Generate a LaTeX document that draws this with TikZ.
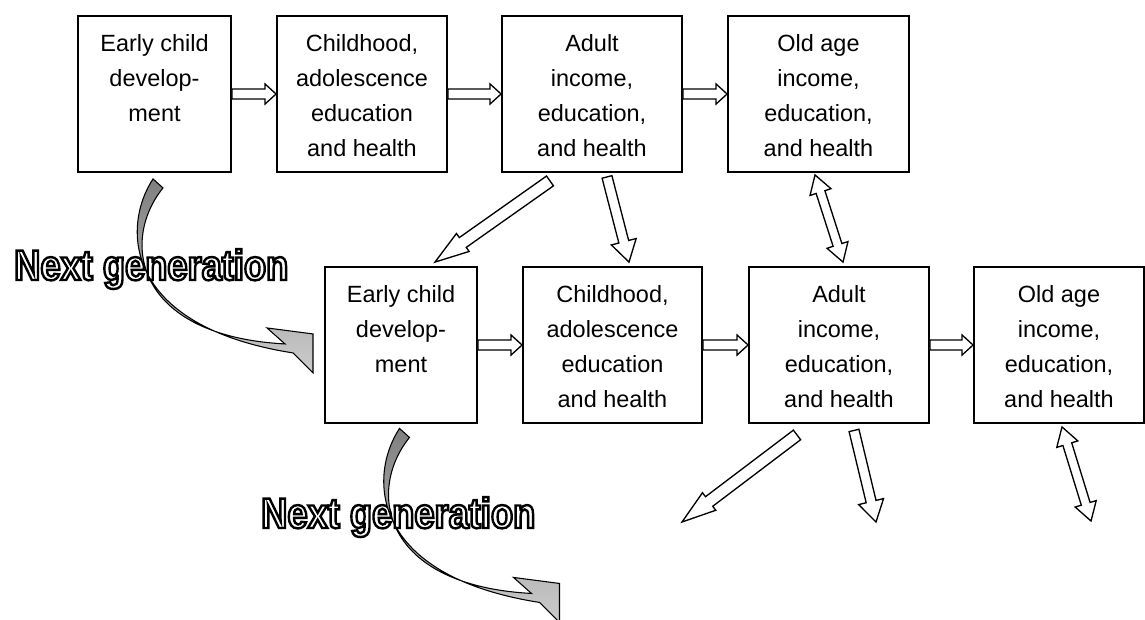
\documentclass[tikz,border=0pt]{standalone}
\usepackage{fontspec}
\setmainfont{Liberation Sans}
\newfontfamily\genfont{Liberation Sans}[FakeStretch=0.85]
\usetikzlibrary{calc}

\newcommand{\stagetext}[1]{\parbox[t][90pt][t]{110pt}{\centering #1}}
\newcommand{\hollow}[1]{\special{pdf:literal direct 2 Tr 1.8 w 0 0 0 RG}#1\special{pdf:literal direct 0 Tr}}

\begin{document}
\begin{tikzpicture}[x=0.75pt,y=-0.75pt,
    stage/.style={draw, line width=1.4pt, fill=white, inner sep=0pt, minimum height=117pt,
      font=\fontsize{17.6pt}{26.25pt}\selectfont},
    nextgen/.style={text=white, anchor=base west, inner sep=0pt,
      font=\genfont\bfseries\fontsize{32pt}{36pt}\selectfont},
    blockarrow/.style n args={3}{draw, fill=white, line width=1pt, line join=miter,
      to path={let \p1=(\tikztostart), \p2=(\tikztotarget), \p3=($(\p2)!#3!(\p1)$) in
        ($(\p1)!#1!90:(\p2)$) -- ($(\p3)!#1!90:(\p2)$) -- ($(\p3)!#2!90:(\p2)$) -- (\p2)
        -- ($(\p3)!#2!-90:(\p2)$) -- ($(\p3)!#1!-90:(\p2)$) -- ($(\p1)!#1!-90:(\p2)$) -- cycle}},
    bothways/.style n args={3}{draw, fill=white, line width=1pt, line join=miter,
      to path={let \p1=(\tikztostart), \p2=(\tikztotarget), \p3=($(\p2)!#3!(\p1)$),
          \p4=($(\p1)!#3!(\p2)$) in
        (\p1) -- ($(\p4)!#2!90:(\p2)$) -- ($(\p4)!#1!90:(\p2)$) -- ($(\p3)!#1!90:(\p2)$)
        -- ($(\p3)!#2!90:(\p2)$) -- (\p2) -- ($(\p3)!#2!-90:(\p2)$) -- ($(\p3)!#1!-90:(\p2)$)
        -- ($(\p4)!#1!-90:(\p2)$) -- ($(\p4)!#2!-90:(\p2)$) -- cycle}},
    flow/.style={blockarrow={3.75pt}{7.5pt}{8.25pt}},
    slant/.style={blockarrow={4.5pt}{8.25pt}{25.5pt}},
    drop/.style={blockarrow={3.8pt}{9.6pt}{15.75pt}},
    twoway/.style={bothways={3.45pt}{8.25pt}{13.5pt}},
    nextgenarrow/.pic={
      \draw[line width=0.8pt, top color=black!50, bottom color=black!20]
        (-5,-4.5) .. controls (-36,42.5) and (-36,142.5) .. (135,169.5)
        -- (155,189.5) -- (155,150.5) -- (109,144.5) -- (127,160.5)
        .. controls (-23,152.5) and (-38,57.5) .. (5,4.5) -- cycle;
    }]
  \useasboundingbox (0,0) rectangle (1145,619);

  % this generation
  \node[stage, minimum width=114.75pt] (b1) at (154.5,94) {\stagetext{Early child\\develop-\\ment}};
  \node[stage, minimum width=127.5pt] (b2) at (362,94) {\stagetext{Childhood,\\adolescence\\education\\and health}};
  \node[stage, minimum width=135pt] (b3) at (592,94) {\stagetext{Adult\\income,\\education,\\and health}};
  \node[stage, minimum width=135.75pt] (b4) at (818.5,94) {\stagetext{Old age\\income,\\education,\\and health}};

  % next generation
  \node[stage, minimum width=114pt] (b5) at (401,345) {\stagetext{Early child\\develop-\\ment}};
  \node[stage, minimum width=134.25pt] (b6) at (612.5,345) {\stagetext{Childhood,\\adolescence\\education\\and health}};
  \node[stage, minimum width=135pt] (b7) at (839,345) {\stagetext{Adult\\income,\\education,\\and health}};
  \node[stage, minimum width=127.5pt] (b8) at (1059,345) {\stagetext{Old age\\income,\\education,\\and health}};

  \draw[flow] (b1.east) to (b2.west);
  \draw[flow] (b2.east) to (b3.west);
  \draw[flow] (b3.east) to (b4.west);
  \draw[flow] (b5.east) to (b6.west);
  \draw[flow] (b6.east) to (b7.west);
  \draw[flow] (b7.east) to (b8.west);

  \draw[slant] ([shift={(-42,8)}]b3.south) to ([shift={(34,-4)}]b5.north);
  \draw[drop] ([shift={(15,4)}]b3.south) to ([shift={(16.5,-4)}]b6.north);
  \draw[twoway] ([shift={(-3.5,2)}]b4.south) to ([shift={(4,-4)}]b7.north);

  \coordinate (out1) at (682,522);
  \coordinate (out2) at (876,522);
  \coordinate (out3) at (1091,521);
  \draw[slant] ([shift={(-42,11)}]b7.south) to (out1);
  \draw[drop] ([shift={(15,6.5)}]b7.south) to (out2);
  \draw[twoway] ([shift={(3,3)}]b8.south) to (out3);

  % generation labels and curved arrows
  \node[nextgen] (ng1) at (14,280) {\hollow{Next generation}};
  \node[nextgen] (ng2) at (261,528) {\hollow{Next generation}};
  \pic at ([shift={(3.5,10.5)}]b1.south) {nextgenarrow};
  \pic at ([shift={(3.5,9)}]b5.south) {nextgenarrow};
\end{tikzpicture}
\end{document}
